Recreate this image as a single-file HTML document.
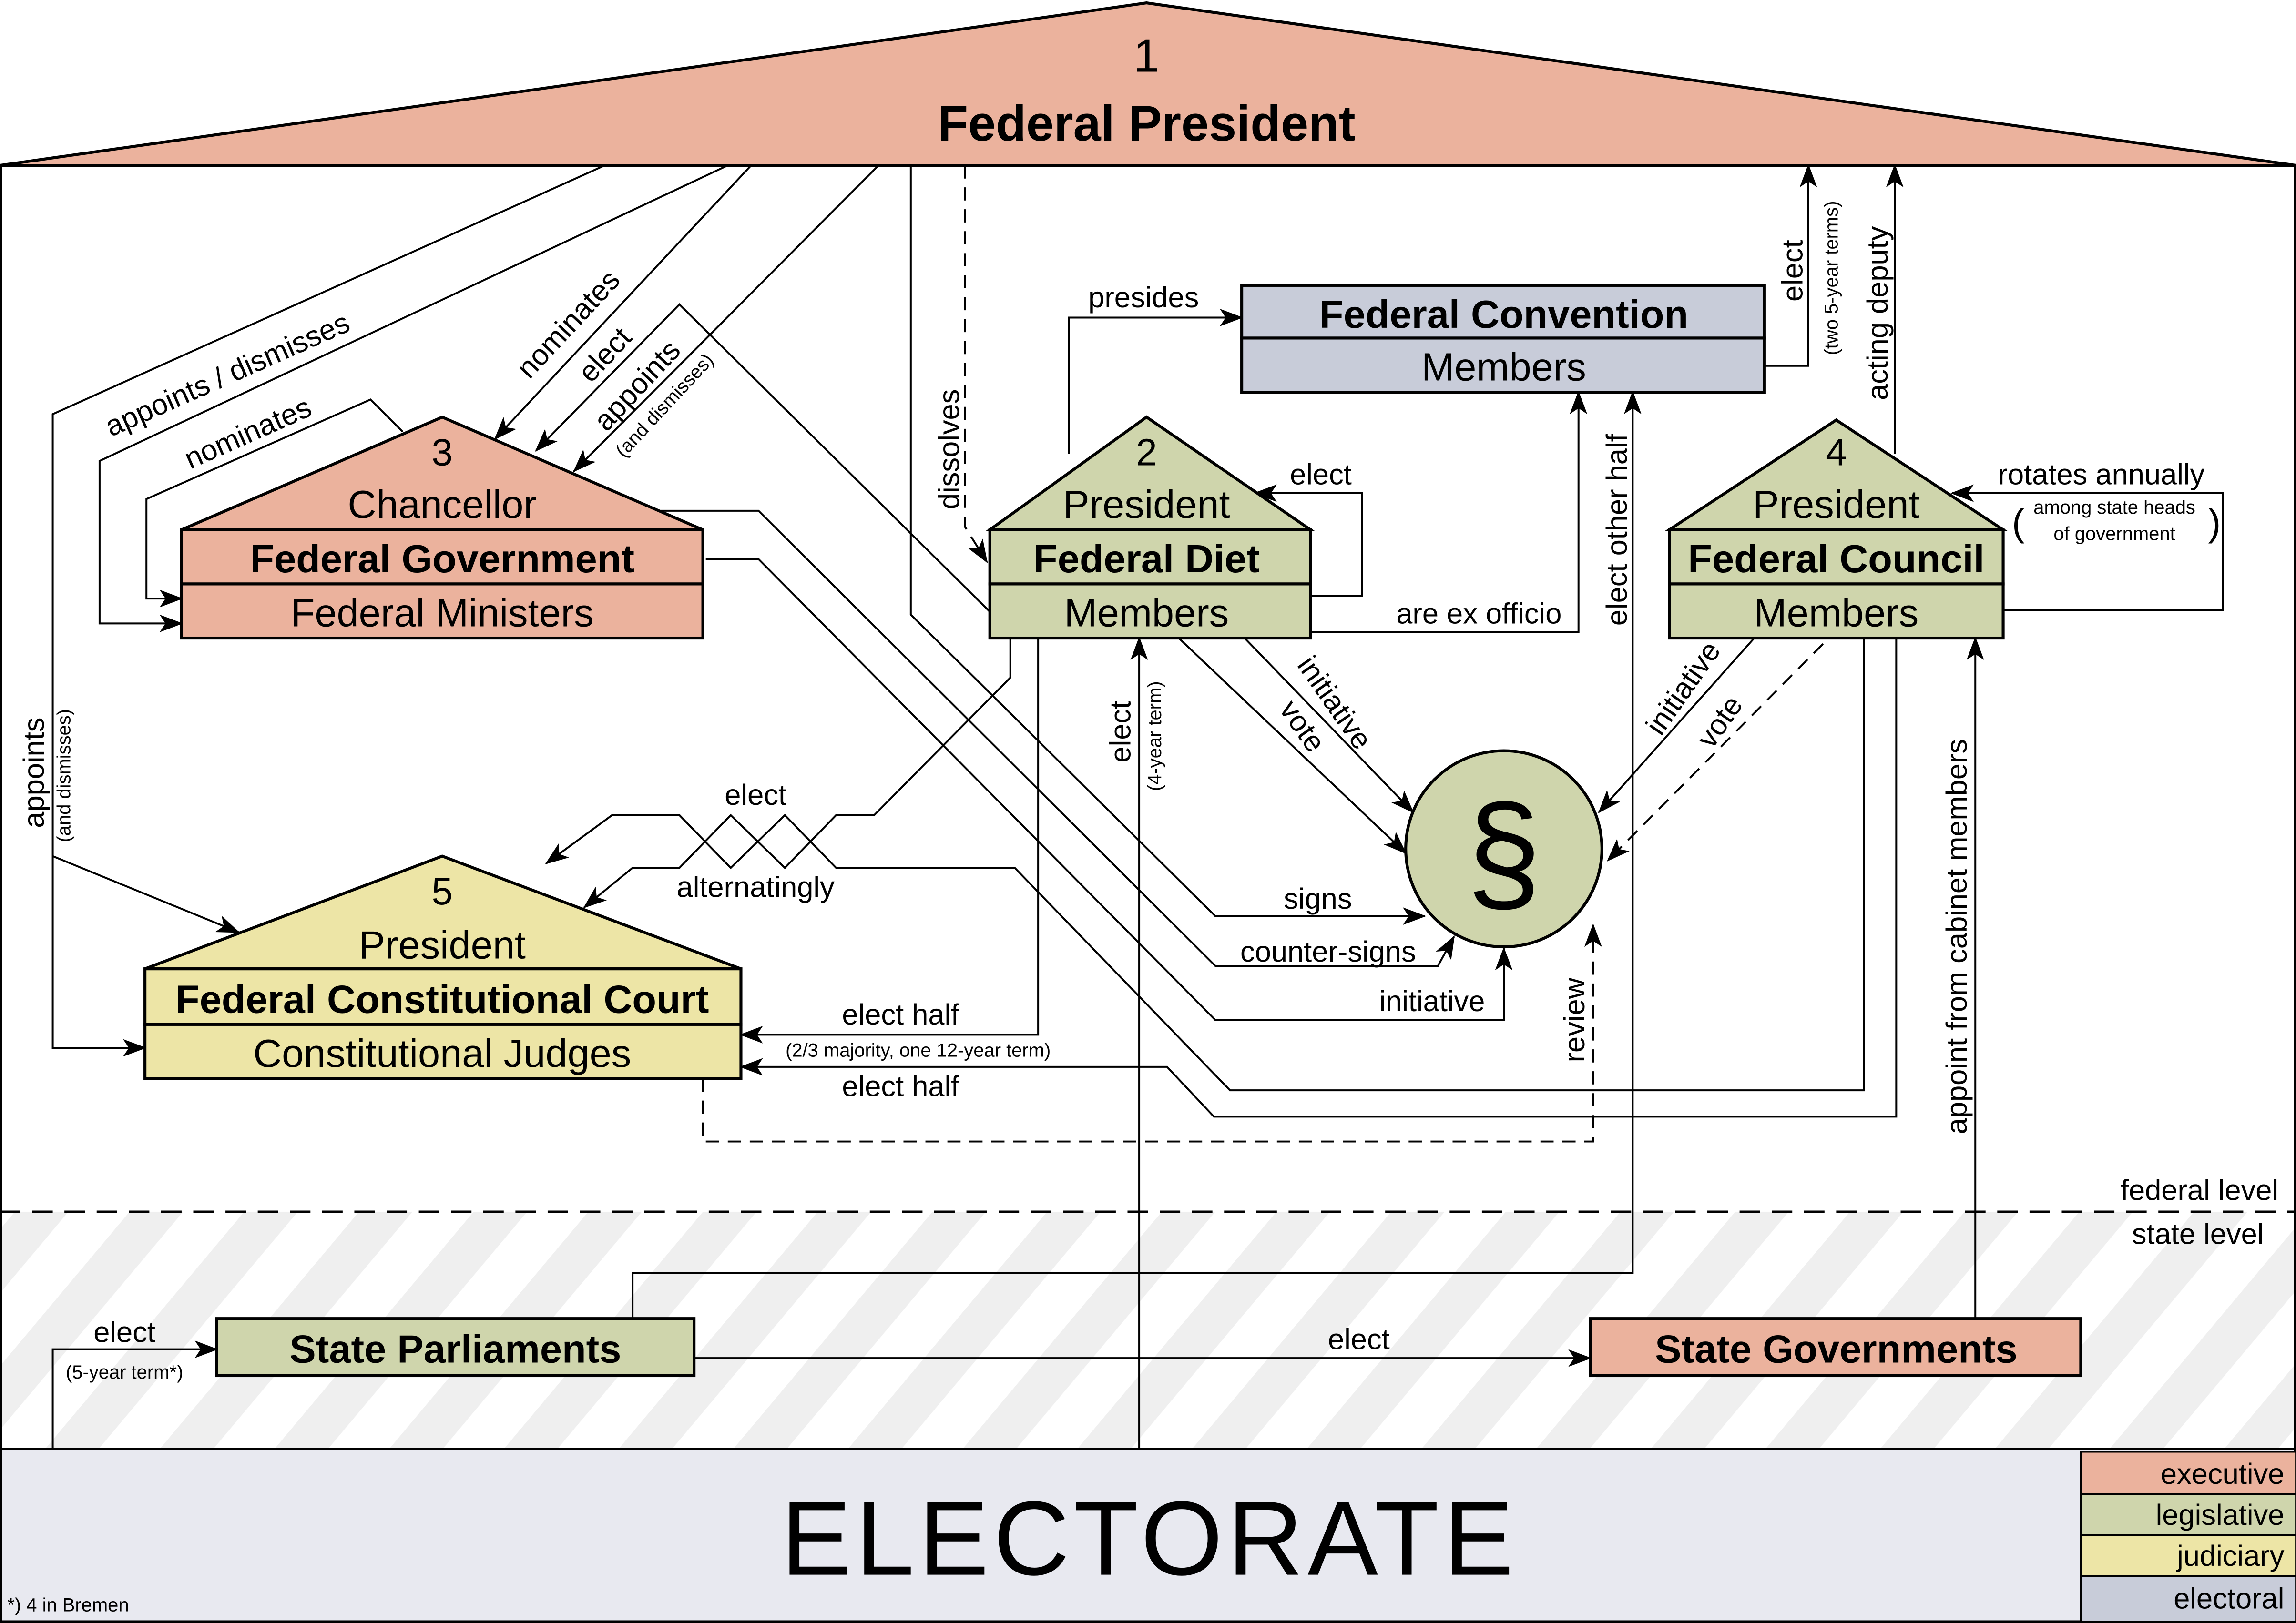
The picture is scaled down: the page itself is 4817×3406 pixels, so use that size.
<!DOCTYPE html>
<html><head><meta charset="utf-8"><style>
html,body{margin:0;padding:0;background:#fff}
svg{display:block}
text{font-family:"Liberation Sans",sans-serif;fill:#000}
</style></head><body>
<svg xmlns="http://www.w3.org/2000/svg" width="4817" height="3406" viewBox="0 0 1568 1109" preserveAspectRatio="none">
<defs>
<marker id="a" markerUnits="userSpaceOnUse" markerWidth="16" markerHeight="12" refX="15" refY="6" orient="auto">
<path d="M0,0 L16,6 L0,12 L4,6 z" fill="#000"/></marker>
<pattern id="h" patternUnits="userSpaceOnUse" width="60" height="60" patternTransform="rotate(40)">
<rect width="60" height="60" fill="#fff"/><rect width="28" height="60" fill="#efefef"/></pattern>
</defs>
<rect width="1568" height="1109" fill="#fff"/>
<!-- state level hatch -->
<rect x="0" y="828" width="1568" height="162" fill="url(#h)"/>
<!-- frame -->
<rect x="0.8" y="113" width="1566.4" height="995" fill="none" stroke="#000" stroke-width="1.6"/>
<line x1="0" y1="828" x2="1568" y2="828" stroke="#000" stroke-width="1.6" stroke-dasharray="14,8"/>
<text x="1556" y="820" font-size="20" text-anchor="end">federal level</text>
<text x="1546" y="850" font-size="20" text-anchor="end">state level</text>
<!-- electorate -->
<rect x="0.8" y="990" width="1566.4" height="118" fill="#e8e9f0" stroke="#000" stroke-width="1.6"/>
<text x="785" y="1076" font-size="72" text-anchor="middle" letter-spacing="3">ELECTORATE</text>
<text x="5" y="1101" font-size="13">*) 4 in Bremen</text>
<g stroke="#000" stroke-width="1.2">
<rect x="1421" y="992" width="147" height="29" fill="#ebb29d"/>
<rect x="1421" y="1021" width="147" height="28" fill="#cfd5ac"/>
<rect x="1421" y="1049" width="147" height="28" fill="#ede5a6"/>
<rect x="1421" y="1077" width="147" height="31" fill="#c8ccd9"/>
</g>
<g font-size="20" text-anchor="end">
<text x="1560" y="1014">executive</text><text x="1560" y="1042">legislative</text>
<text x="1560" y="1070">judiciary</text><text x="1560" y="1099">electoral</text>
</g>
<!-- roof -->
<polygon points="0,113 783,2 1568,113" fill="#ebb29d" stroke="#000" stroke-width="2"/>
<text x="783" y="49" font-size="32" text-anchor="middle">1</text>
<text x="783" y="96" font-size="34" font-weight="bold" text-anchor="middle">Federal President</text>

<!-- connectors -->
<g fill="none" stroke="#000" stroke-width="1.3">
<polyline points="413,113 36,283 36,716 99,716" marker-end="url(#a)"/>
<polyline points="36,585 163,637" marker-end="url(#a)"/>
<polyline points="497,113 68,315 68,426 124,426" marker-end="url(#a)"/>
<polyline points="513,113 338,300" marker-end="url(#a)"/>
<polyline points="676,418 464,208 366,308" marker-end="url(#a)"/>
<polyline points="600,113 392,322" marker-end="url(#a)"/>
<polyline points="275,295 253,273 100,341 100,409 124,409" marker-end="url(#a)"/>
<polyline points="622,113 622,420 830,626 973,626" marker-end="url(#a)"/>
<polyline points="451,349 518,349 830,660 982,660 993,640" marker-end="url(#a)"/>
<polyline points="482,382 518,382 830,697 1027,697 1027,648" marker-end="url(#a)"/>
<polyline points="659,113 659,360 674,384" stroke-dasharray="9,6" marker-end="url(#a)"/>
<polyline points="730,310 730,217 848,217" marker-end="url(#a)"/>
<polyline points="1205,250 1235,250 1235,113" marker-end="url(#a)"/>
<polyline points="1294,310 1294,113" marker-end="url(#a)"/>
<polyline points="895,432 1078,432 1078,268" marker-end="url(#a)"/>
<polyline points="895,407 930,407 930,337 857,337" marker-end="url(#a)"/>
<polyline points="432,901 432,870 1115,870 1115,268" marker-end="url(#a)"/>
<polyline points="1368,417 1518,417 1518,337 1333,337" marker-end="url(#a)"/>
<polyline points="1349,901 1349,436" marker-end="url(#a)"/>
<polyline points="778,990 778,436" marker-end="url(#a)"/>
<polyline points="850,436 965,555" marker-end="url(#a)"/>
<polyline points="805,436 960,583" marker-end="url(#a)"/>
<polyline points="1198,436 1092,555" marker-end="url(#a)"/>
<polyline points="1245,440 1098,588" stroke-dasharray="9,6" marker-end="url(#a)"/>
<polyline points="480,737 480,780 1088,780 1088,632" stroke-dasharray="9,6" marker-end="url(#a)"/>
<polyline points="709,436 709,707 506,707" marker-end="url(#a)"/>
<polyline points="1295,436 1295,763 829,763 797,729 506,729" marker-end="url(#a)"/>
<polyline points="690,436 690,463 597,557 571,557 536,593 499,557 464,593 432,593 399,620" marker-end="url(#a)"/>
<polyline points="1273,436 1273,745 840,745 693,593 571,593 536,557 499,593 464,557 418,557 373,590" marker-end="url(#a)"/>
<polyline points="36,990 36,922 148,922" marker-end="url(#a)"/>
<polyline points="474,928 1086,928" marker-end="url(#a)"/>
</g>

<!-- Chancellor -->
<g stroke="#000" stroke-width="2" fill="#ebb29d">
<polygon points="124,362 302,285 480,362"/>
<rect x="124" y="362" width="356" height="37"/><rect x="124" y="399" width="356" height="37"/>
</g>
<text x="302" y="318" font-size="26" text-anchor="middle">3</text>
<text x="302" y="354" font-size="27" text-anchor="middle">Chancellor</text>
<text x="302" y="391" font-size="27" font-weight="bold" text-anchor="middle">Federal Government</text>
<text x="302" y="428" font-size="27" text-anchor="middle">Federal Ministers</text>
<!-- Diet -->
<g stroke="#000" stroke-width="2" fill="#cfd5ac">
<polygon points="676,362 783,285 895,362"/>
<rect x="676" y="362" width="219" height="37"/><rect x="676" y="399" width="219" height="37"/>
</g>
<text x="783" y="318" font-size="26" text-anchor="middle">2</text>
<text x="783" y="354" font-size="27" text-anchor="middle">President</text>
<text x="783" y="391" font-size="27" font-weight="bold" text-anchor="middle">Federal Diet</text>
<text x="783" y="428" font-size="27" text-anchor="middle">Members</text>
<!-- Council -->
<g stroke="#000" stroke-width="2" fill="#cfd5ac">
<polygon points="1140,362 1254,287 1368,362"/>
<rect x="1140" y="362" width="228" height="37"/><rect x="1140" y="399" width="228" height="37"/>
</g>
<text x="1254" y="318" font-size="26" text-anchor="middle">4</text>
<text x="1254" y="354" font-size="27" text-anchor="middle">President</text>
<text x="1254" y="391" font-size="27" font-weight="bold" text-anchor="middle">Federal Council</text>
<text x="1254" y="428" font-size="27" text-anchor="middle">Members</text>
<!-- Convention -->
<g stroke="#000" stroke-width="2" fill="#c8ccd9">
<rect x="848" y="195" width="357" height="36"/><rect x="848" y="231" width="357" height="37"/>
</g>
<text x="1027" y="224" font-size="27" font-weight="bold" text-anchor="middle">Federal Convention</text>
<text x="1027" y="260" font-size="27" text-anchor="middle">Members</text>
<!-- Court -->
<g stroke="#000" stroke-width="2" fill="#ede5a6">
<polygon points="99,662 302,585 506,662"/>
<rect x="99" y="662" width="407" height="38"/><rect x="99" y="700" width="407" height="37"/>
</g>
<text x="302" y="618" font-size="26" text-anchor="middle">5</text>
<text x="302" y="655" font-size="27" text-anchor="middle">President</text>
<text x="302" y="692" font-size="27" font-weight="bold" text-anchor="middle">Federal Constitutional Court</text>
<text x="302" y="729" font-size="27" text-anchor="middle">Constitutional Judges</text>
<!-- paragraph -->
<circle cx="1027" cy="580" r="67" fill="#cfd5ac" stroke="#000" stroke-width="2"/>
<text x="1027" y="614" font-size="92" text-anchor="middle">§</text>
<!-- state boxes -->
<rect x="148" y="901" width="326" height="39" fill="#cfd5ac" stroke="#000" stroke-width="2"/>
<text x="311" y="931" font-size="27" font-weight="bold" text-anchor="middle">State Parliaments</text>
<rect x="1086" y="901" width="335" height="39" fill="#ebb29d" stroke="#000" stroke-width="2"/>
<text x="1254" y="931" font-size="27" font-weight="bold" text-anchor="middle">State Governments</text>

<!-- labels -->
<g font-size="20">
<text transform="translate(30,528) rotate(-90)" text-anchor="middle">appoints</text>
<text transform="translate(48,530) rotate(-90)" text-anchor="middle" font-size="13">(and dismisses)</text>
<text transform="translate(158,262) rotate(-24)" text-anchor="middle">appoints / dismisses</text>
<text transform="translate(172,302) rotate(-24)" text-anchor="middle">nominates</text>
<text transform="translate(393,226) rotate(-47)" text-anchor="middle">nominates</text>
<text transform="translate(418,247) rotate(-47)" text-anchor="middle">elect</text>
<text transform="translate(440,268) rotate(-47)" text-anchor="middle">appoints</text>
<text transform="translate(457,280) rotate(-47)" text-anchor="middle" font-size="13">(and dismisses)</text>
<text transform="translate(655,307) rotate(-90)" text-anchor="middle">dissolves</text>
<text x="781" y="210" text-anchor="middle">presides</text>
<text x="902" y="331" text-anchor="middle">elect</text>
<text x="1010" y="426" text-anchor="middle">are ex officio</text>
<text transform="translate(1231,185) rotate(-90)" text-anchor="middle">elect</text>
<text transform="translate(1255,190) rotate(-90)" text-anchor="middle" font-size="13">(two 5-year terms)</text>
<text transform="translate(1289,214) rotate(-90)" text-anchor="middle">acting deputy</text>
<text transform="translate(1111,362) rotate(-90)" text-anchor="middle">elect other half</text>
<text x="1435" y="331" text-anchor="middle">rotates annually</text>
<text x="1444" y="351" text-anchor="middle" font-size="13">among state heads</text>
<text x="1444" y="369" text-anchor="middle" font-size="13">of government</text>
<text x="1374" y="366" font-size="26">(</text><text x="1508" y="366" font-size="26">)</text>
<text transform="translate(906,484) rotate(55)" text-anchor="middle">initiative</text>
<text transform="translate(884,500) rotate(55)" text-anchor="middle">vote</text>
<text transform="translate(1155,474) rotate(-55)" text-anchor="middle">initiative</text>
<text transform="translate(1180,497) rotate(-55)" text-anchor="middle">vote</text>
<text transform="translate(772,500) rotate(-90)" text-anchor="middle">elect</text>
<text transform="translate(793,503) rotate(-90)" text-anchor="middle" font-size="13">(4-year term)</text>
<text x="516" y="550" text-anchor="middle">elect</text>
<text x="516" y="613" text-anchor="middle">alternatingly</text>
<text x="900" y="621" text-anchor="middle">signs</text>
<text x="907" y="657" text-anchor="middle">counter-signs</text>
<text x="978" y="691" text-anchor="middle">initiative</text>
<text transform="translate(1082,697) rotate(-90)" text-anchor="middle">review</text>
<text x="615" y="700" text-anchor="middle">elect half</text>
<text x="627" y="722" text-anchor="middle" font-size="13">(2/3 majority, one 12-year term)</text>
<text x="615" y="749" text-anchor="middle">elect half</text>
<text transform="translate(1343,640) rotate(-90)" text-anchor="middle">appoint from cabinet members</text>
<text x="85" y="917" text-anchor="middle">elect</text>
<text x="85" y="942" text-anchor="middle" font-size="13">(5-year term*)</text>
<text x="928" y="922" text-anchor="middle">elect</text>
</g>
</svg>
</body></html>
